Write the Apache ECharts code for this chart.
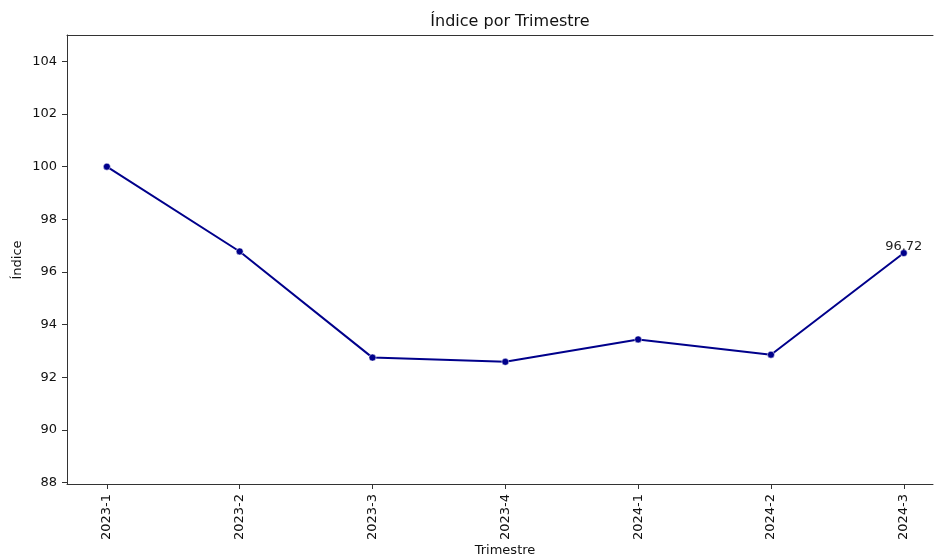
<!DOCTYPE html>
<html>
<head>
<meta charset="utf-8">
<script src="https://cdn.jsdelivr.net/npm/echarts@6/dist/echarts.min.js"></script>
<style>
  html, body { margin: 0; padding: 0; background: #fff; }
  #chart { width: 934px; height: 558px; }
</style>
</head>
<body>
<div id="chart"></div>
<script>
// data
const categories = ["2023-1", "2023-2", "2023-3", "2023-4", "2024-1", "2024-2", "2024-3"];
const indexValues = [100.0, 96.78, 92.75, 92.59, 93.44, 92.86, 96.72];
const yTicks = [88, 90, 92, 94, 96, 98, 100, 102, 104];
const xTicks = [0, 1, 2, 3, 4, 5, 6];

const font = "DejaVu Sans";
const lineColor = "#00008b";

let chartDom = document.getElementById("chart");
let myChart = echarts.init(chartDom);

const points = indexValues.map((v, i) => [i, v]);
const lastIdx = indexValues.length - 1;

let option = {
  animation: false,
  backgroundColor: "#fff",
  title: {
    text: "Índice por Trimestre",
    left: 505,
    textAlign: "center",
    top: 9,
    textStyle: { fontFamily: font, fontSize: 16, fontWeight: "normal", color: "#111" },
  },
  // axis titles placed by hand (axis name gets pushed by the labels otherwise)
  graphic: [
    {
      type: "text",
      x: 505,
      y: 551,
      style: {
        text: "Trimestre",
        font: "13px " + font,
        fill: "#111",
        align: "center",
        verticalAlign: "middle",
      },
    },
    {
      type: "text",
      x: 18,
      y: 260,
      rotation: Math.PI / 2,
      style: {
        text: "Índice",
        font: "13px " + font,
        fill: "#111",
        align: "center",
        verticalAlign: "middle",
      },
    },
  ],
  grid: { left: 67, right: 1, top: 35, bottom: 74, outerBoundsMode: "none", containLabel: false },
  xAxis: [
    {
      type: "value",
      min: -0.3,
      max: 6.22,
      splitLine: { show: false },
      axisLine: { show: true, onZero: false, lineStyle: { color: "#333", width: 1 } },
      axisTick: { show: true, customValues: xTicks, length: 5, lineStyle: { color: "#333" } },
      axisLabel: {
        customValues: xTicks,
        rotate: 90,
        margin: 10,
        fontFamily: font,
        fontSize: 13,
        color: "#111",
        formatter: (v) => categories[Math.round(v)] || "",
      },
    },
    {
      type: "value",
      position: "top",
      min: -0.3,
      max: 6.22,
      splitLine: { show: false },
      axisLine: { show: true, onZero: false, lineStyle: { color: "#333", width: 1 } },
      axisTick: { show: false },
      axisLabel: { show: false },
    },
  ],
  yAxis: {
    type: "value",
    min: 87.95,
    max: 105,
    splitLine: { show: false },
    axisLine: { show: true, onZero: false, lineStyle: { color: "#333", width: 1 } },
    axisTick: { show: true, customValues: yTicks, length: 5, lineStyle: { color: "#333" } },
    axisLabel: {
      customValues: yTicks,
      margin: 10,
      fontFamily: font,
      fontSize: 13,
      color: "#111",
    },
  },
  series: [
    {
      type: "line",
      data: points,
      xAxisIndex: 0,
      symbol: "circle",
      symbolSize: 7,
      lineStyle: { color: lineColor, width: 2 },
      itemStyle: { color: lineColor, borderColor: "#fff", borderWidth: 0.5 },
      label: {
        show: true,
        position: "top",
        distance: -4,
        fontFamily: font,
        fontSize: 13,
        color: "#222",
        formatter: (p) => (p.dataIndex === lastIdx ? p.value[1].toFixed(2) : ""),
      },
    },
  ],
};

myChart.setOption(option);
</script>
</body>
</html>
